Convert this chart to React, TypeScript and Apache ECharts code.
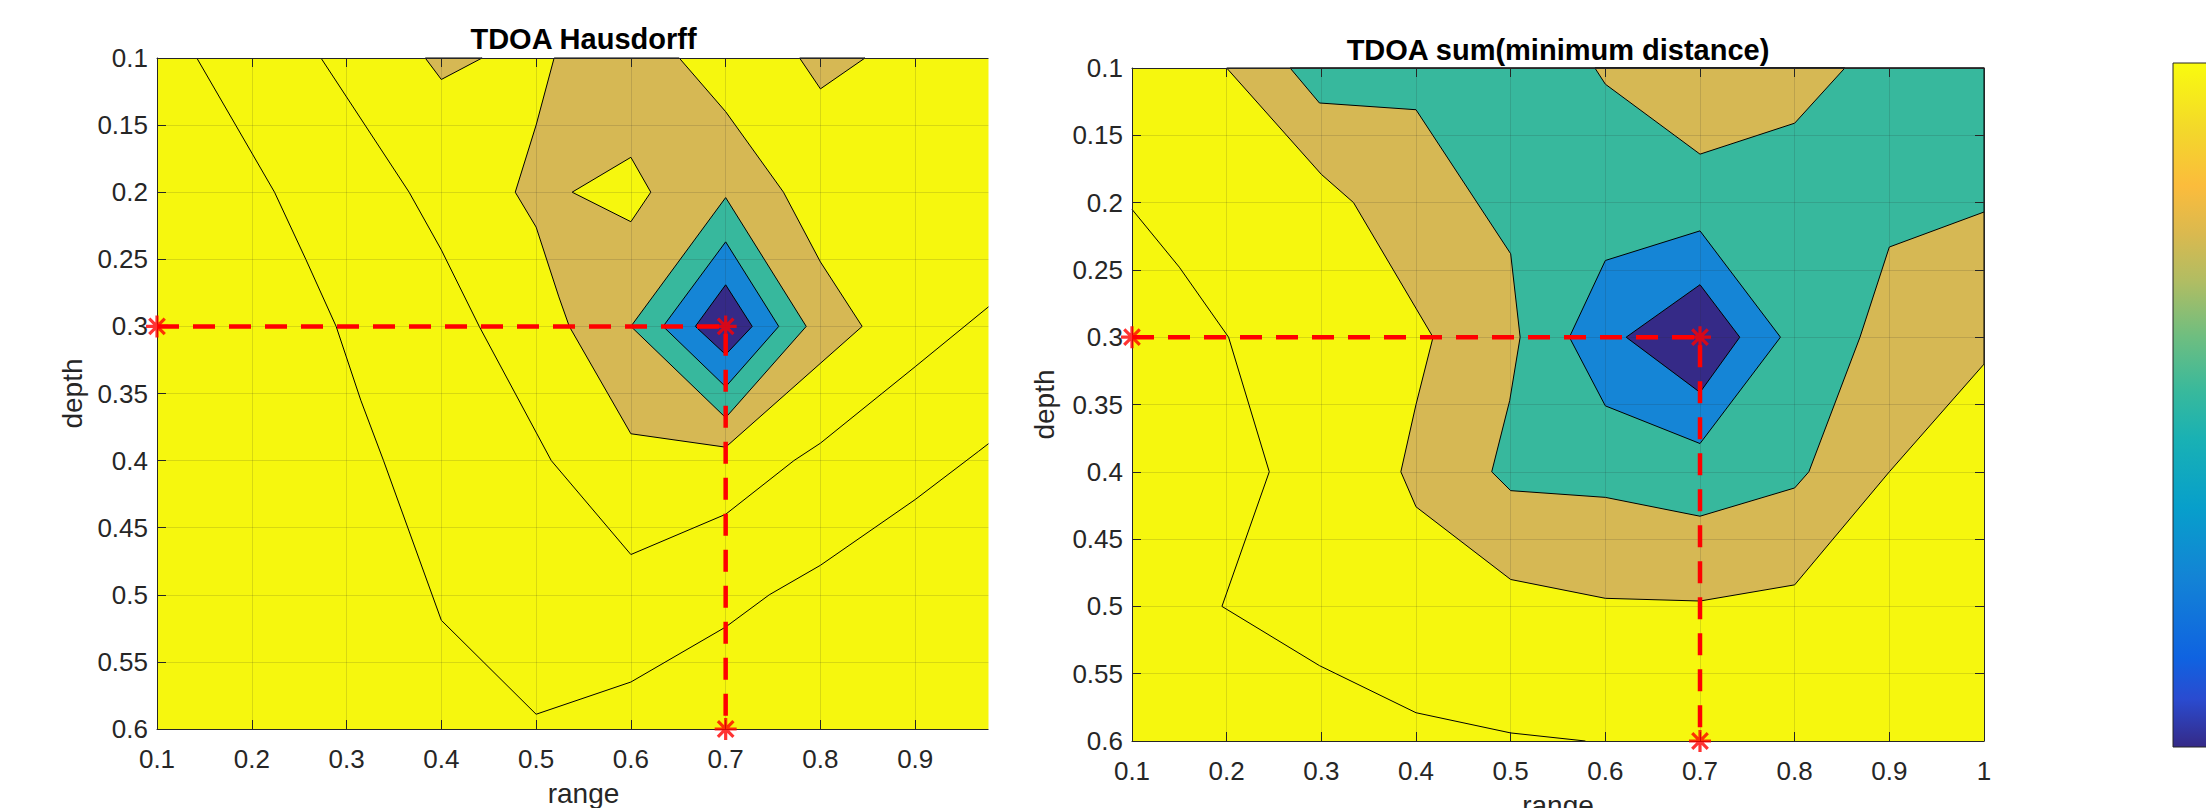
import React, { useEffect, useRef } from "react";
import * as echarts from "echarts";

// ---------- axes ----------
const RANGE_MIN = 0.1;
const RANGE_MAX = 1;
const RANGE_STEP = 0.1;
const DEPTH_MIN = 0.1;
const DEPTH_MAX = 0.6;
const DEPTH_STEP = 0.05;

// ---------- level colours (parula) ----------
const C_YELLOW = "#f6f70e";
const C_TAN = "#d6b854";
const C_TEAL = "#37b89d";
const C_BLUE = "#1585d6";
const C_DARK = "#352a87";

// ---------- TDOA Hausdorff: [range, depth] ----------
const hausIso1 = [[0.142, 0.1], [0.224, 0.2], [0.257, 0.25], [0.289, 0.3], [0.315, 0.355], [0.339, 0.4], [0.4, 0.519], [0.5, 0.589], [0.6, 0.565], [0.7, 0.524], [0.746, 0.5], [0.8, 0.478], [0.9, 0.429], [0.967, 0.393], [1.0, 0.375]];
const hausIso2 = [[0.273, 0.1], [0.366, 0.2], [0.4, 0.243], [0.44, 0.3], [0.516, 0.4], [0.6, 0.47], [0.7, 0.44], [0.772, 0.4], [0.8, 0.387], [0.9, 0.33], [0.978, 0.285], [1.0, 0.272]];
const hausTanMain = [[0.519, 0.1], [0.651, 0.1], [0.7, 0.14], [0.761, 0.2], [0.8, 0.252], [0.844, 0.3], [0.7, 0.39], [0.6, 0.38], [0.535, 0.3], [0.524, 0.278], [0.5, 0.226], [0.478, 0.2], [0.5, 0.15]];
const hausTanTriA = [[0.383, 0.1], [0.4, 0.116], [0.443, 0.1]];
const hausTanTriB = [[0.778, 0.1], [0.8, 0.123], [0.847, 0.1]];
const hausHole = [[0.538, 0.2], [0.6, 0.174], [0.621, 0.2], [0.6, 0.222]];
const hausTeal = [[0.7, 0.204], [0.785, 0.3], [0.7, 0.368], [0.6, 0.3]];
const hausBlue = [[0.7, 0.237], [0.756, 0.3], [0.7, 0.345], [0.634, 0.3]];
const hausDark = [[0.7, 0.269], [0.728, 0.3], [0.7, 0.321], [0.668, 0.3]];

// ---------- TDOA sum(minimum distance): [range, depth] ----------
const sumIso1 = [[0.1, 0.205], [0.15, 0.248], [0.202, 0.3], [0.245, 0.4], [0.195, 0.5], [0.298, 0.544], [0.4, 0.579], [0.5, 0.594], [0.579, 0.6]];
const sumTanEdge = [[0.2, 0.1], [0.3, 0.179], [0.334, 0.2], [0.376, 0.25], [0.418, 0.3], [0.4, 0.35], [0.384, 0.4], [0.4, 0.426], [0.5, 0.48], [0.6, 0.494], [0.7, 0.496], [0.8, 0.484], [0.9, 0.4], [1.0, 0.32]];
const sumTealEdge = [[0.267, 0.1], [0.298, 0.126], [0.4, 0.131], [0.5, 0.238], [0.51, 0.3], [0.499, 0.347], [0.48, 0.4], [0.5, 0.414], [0.6, 0.419], [0.7, 0.433], [0.8, 0.412], [0.815, 0.4], [0.869, 0.3], [0.9, 0.233], [1.0, 0.207]];
const sumTopCorner = [[1.0, 0.1]];
const sumTanTop = [[0.589, 0.1], [0.6, 0.112], [0.7, 0.164], [0.8, 0.141], [0.853, 0.1]];
const sumBlue = [[0.7, 0.221], [0.785, 0.3], [0.7, 0.379], [0.6, 0.351], [0.562, 0.3], [0.6, 0.243]];
const sumDark = [[0.7, 0.261], [0.742, 0.3], [0.7, 0.341], [0.622, 0.3]];

// ---------- estimate markers ----------
const estPath = [[0.1, 0.3], [0.7, 0.3], [0.7, 0.6]];

const FONT = "Liberation Sans";
const TXT = "#262626";
const STAR = "path://M10 0L10 20M0 10L20 10M2.93 2.93L17.07 17.07M2.93 17.07L17.07 2.93";

type Poly = { pts: number[][]; color: string };

const hausPolys: Poly[] = [
  { pts: hausTanMain, color: C_TAN },
  { pts: hausTanTriA, color: C_TAN },
  { pts: hausTanTriB, color: C_TAN },
  { pts: hausHole, color: C_YELLOW },
  { pts: hausTeal, color: C_TEAL },
  { pts: hausBlue, color: C_BLUE },
  { pts: hausDark, color: C_DARK },
];
const sumPolys: Poly[] = [
  { pts: [...sumTanEdge, ...sumTopCorner], color: C_TAN },
  { pts: [...sumTealEdge, ...sumTopCorner], color: C_TEAL },
  { pts: sumTanTop, color: C_TAN },
  { pts: sumBlue, color: C_BLUE },
  { pts: sumDark, color: C_DARK },
];

const fmt = (v: number) => String(Math.round(v * 100) / 100);

function axes(g: number) {
  const line = { show: true, onZero: false, lineStyle: { color: TXT, width: 1 } };
  const tick = { show: true, inside: true, length: 9, lineStyle: { color: TXT, width: 1 } };
  const x = [
    {
      type: "value", gridIndex: g, position: "bottom", min: RANGE_MIN, max: RANGE_MAX, interval: RANGE_STEP, z: 5,
      axisLine: line, axisTick: tick,
      splitLine: { show: true, lineStyle: { color: "rgba(38,38,38,0.15)", width: 1 } },
      axisLabel: { show: true, margin: 17, fontSize: 26, fontFamily: FONT, color: TXT, formatter: fmt },
    },
    {
      type: "value", gridIndex: g, position: "top", min: RANGE_MIN, max: RANGE_MAX, interval: RANGE_STEP, z: 5,
      axisLine: line, axisTick: tick, splitLine: { show: false }, axisLabel: { show: false },
    },
  ];
  const y = [
    {
      type: "value", gridIndex: g, position: "left", inverse: true, min: DEPTH_MIN, max: DEPTH_MAX, interval: DEPTH_STEP, z: 5,
      axisLine: line, axisTick: tick,
      splitLine: { show: true, lineStyle: { color: "rgba(38,38,38,0.15)", width: 1 } },
      axisLabel: { show: true, margin: 9, fontSize: 26, fontFamily: FONT, color: TXT, formatter: fmt },
    },
    {
      type: "value", gridIndex: g, position: "right", inverse: true, min: DEPTH_MIN, max: DEPTH_MAX, interval: DEPTH_STEP, z: 5,
      axisLine: line, axisTick: tick, splitLine: { show: false }, axisLabel: { show: false },
    },
  ];
  return { x, y };
}

function plotSeries(g: number, polys: Poly[], isoLines: number[][][]) {
  const ax = g * 2;
  const list: any[] = [
    {
      type: "custom", coordinateSystem: "cartesian2d", xAxisIndex: ax, yAxisIndex: ax, z: 2, silent: true,
      data: polys.map((p, i) => [p.pts[0][0], p.pts[0][1], i]),
      renderItem: (params: any, api: any) => {
        const p = polys[api.value(2)];
        return {
          type: "polygon",
          shape: { points: p.pts.map((pt) => api.coord(pt)) },
          style: { fill: p.color, stroke: "#000", lineWidth: 1 },
        };
      },
    },
  ];
  isoLines.forEach((l) =>
    list.push({
      type: "line", xAxisIndex: ax, yAxisIndex: ax, data: l, symbol: "none", z: 3, silent: true,
      lineStyle: { color: "#000", width: 1 },
    })
  );
  list.push({
    type: "line", xAxisIndex: ax, yAxisIndex: ax, data: estPath, symbol: "none", z: 10, silent: true,
    lineStyle: { color: "#ff0000", width: 4.5, type: [22, 14] },
  });
  list.push({
    type: "scatter", xAxisIndex: ax, yAxisIndex: ax, data: estPath, symbol: STAR, symbolSize: 22, z: 11, clip: false, silent: true,
    itemStyle: { color: "transparent", borderColor: "#ff0000", borderWidth: 3.2 },
  });
  return list;
}

const parulaStops = [
  [0, "#352a87"], [0.07, "#2a4bd0"], [0.13, "#0f63e1"], [0.25, "#1384d5"], [0.35, "#079fcb"],
  [0.45, "#19b1b4"], [0.52, "#38b99c"], [0.6, "#6ebe80"], [0.68, "#b0bd63"], [0.75, "#dab94f"],
  [0.82, "#fbbc3c"], [0.9, "#f3d72b"], [1, "#f9fb0e"],
];

export default function App() {
  const ref = useRef<HTMLDivElement>(null);
  useEffect(() => {
    if (!ref.current) return;
    const chart = echarts.init(ref.current, undefined, { renderer: "svg" });
    const a0 = axes(0);
    const a1 = axes(1);
    const option: any = {
      animation: false,
      backgroundColor: "#ffffff",
      grid: [
        { left: 157, top: 58, width: 853, height: 671, show: true, backgroundColor: C_YELLOW, borderWidth: 0 },
        { left: 1132, top: 68, width: 852, height: 673, show: true, backgroundColor: C_YELLOW, borderWidth: 0 },
      ],
      xAxis: [...a0.x, ...a1.x],
      yAxis: [...a0.y, ...a1.y],
      series: [...plotSeries(0, hausPolys, [hausIso1, hausIso2]), ...plotSeries(1, sumPolys, [sumIso1])],
      graphic: [
        { type: "rect", z: 100, shape: { x: 988.5, y: 0, width: 38, height: 808 }, style: { fill: "#ffffff" } },
        {
          type: "rect", z: 100, shape: { x: 2173, y: 63, width: 60, height: 684 },
          style: {
            fill: { type: "linear", x: 0, y: 1, x2: 0, y2: 0, colorStops: parulaStops.map(([o, c]) => ({ offset: o, color: c })) },
            stroke: TXT, lineWidth: 1,
          },
        },
        { type: "text", z: 101, x: 583.5, y: 38.7, style: { text: "TDOA Hausdorff", font: `bold 29px "${FONT}"`, fill: "#000", textAlign: "center", textVerticalAlign: "middle" } },
        { type: "text", z: 101, x: 1558, y: 50, style: { text: "TDOA sum(minimum distance)", font: `bold 29px "${FONT}"`, fill: "#000", textAlign: "center", textVerticalAlign: "middle" } },
        { type: "text", z: 101, x: 583.5, y: 793, style: { text: "range", font: `28px "${FONT}"`, fill: TXT, textAlign: "center", textVerticalAlign: "middle" } },
        { type: "text", z: 101, x: 1558, y: 805, style: { text: "range", font: `28px "${FONT}"`, fill: TXT, textAlign: "center", textVerticalAlign: "middle" } },
        { type: "text", z: 101, x: 72, y: 393.5, rotation: Math.PI / 2, style: { text: "depth", font: `28px "${FONT}"`, fill: TXT, textAlign: "center", textVerticalAlign: "middle" } },
        { type: "text", z: 101, x: 1044.5, y: 404.5, rotation: Math.PI / 2, style: { text: "depth", font: `28px "${FONT}"`, fill: TXT, textAlign: "center", textVerticalAlign: "middle" } },
      ],
    };
    chart.setOption(option);
    return () => chart.dispose();
  }, []);
  return <div ref={ref} style={{ position: "absolute", left: 0, top: 0, width: 2206, height: 808 }} />;
}
